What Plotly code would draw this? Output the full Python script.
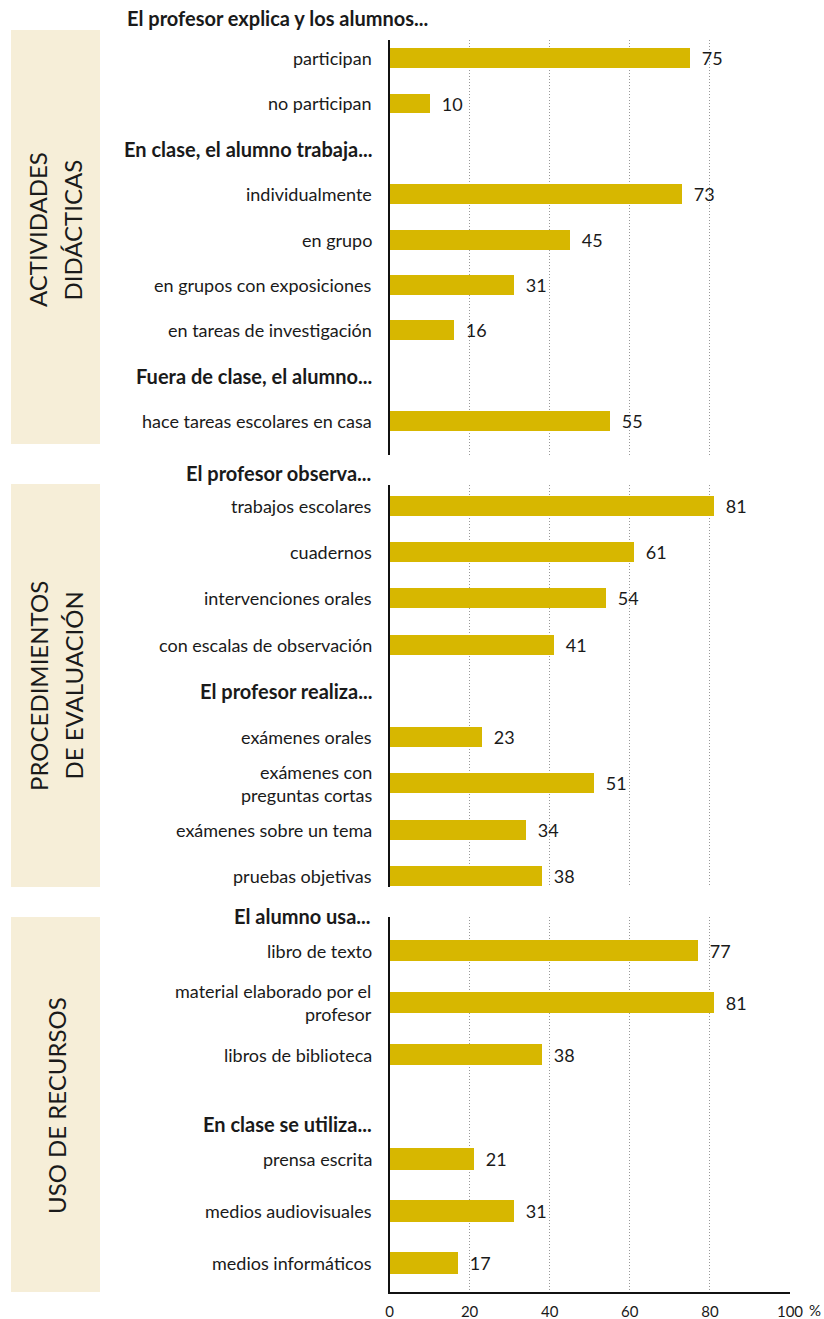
import plotly.graph_objects as go

W, H = 824, 1319

# ---------------- data ----------------
section_titles = [["ACTIVIDADES", "DIDÁCTICAS"], ["PROCEDIMIENTOS", "DE EVALUACIÓN"], ["USO DE RECURSOS"]]
panel_titles = ["El profesor explica y los alumnos...", "El profesor observa...", "El alumno usa..."]

cats1 = ["participan", "no participan", "<b>En clase, el alumno trabaja...</b>",
         "individualmente", "en grupo", "en grupos con exposiciones",
         "en tareas de investigación", "<b>Fuera de clase, el alumno...</b>",
         "hace tareas escolares en casa"]
vals1 = [75, 10, None, 73, 45, 31, 16, None, 55]
pos1 = [0, 1, 2, 3, 4, 5, 6, 7, 8]

cats2 = ["trabajos escolares", "cuadernos", "intervenciones orales",
         "con escalas de observación", "<b>El profesor realiza...</b>",
         "exámenes orales", "exámenes con<br>preguntas cortas",
         "exámenes sobre un tema", "pruebas objetivas"]
vals2 = [81, 61, 54, 41, None, 23, 51, 34, 38]
pos2 = [0, 1, 2, 3, 4, 5, 6, 7, 8]

cats3 = ["libro de texto", "material elaborado por el<br>profesor", "libros de biblioteca",
         "<b>En clase se utiliza...</b>", "prensa escrita", "medios audiovisuales",
         "medios informáticos"]
vals3 = [77, 81, 38, None, 21, 31, 17]
pos3 = [0, 1, 2, 3.33, 4, 5, 6]

x_ticks = [0, 20, 40, 60, 80, 100]
x_ticktext = ["0", "20", "40", "60", "80", "100"]

# ---------------- styling ----------------
FONT = "Lato, sans-serif"
BAR = "#D7B700"
BEIGE = "#F6EED8"
TXT = "#1a1a1a"


def px(x):
    return x / W


def py(y):
    return 1 - y / H


panels = [
    dict(cats=cats1, vals=vals1, pos=pos1, top=40, bottom=455, rng=[8.75, -0.4], bw=0.44,
         box=(30, 444), sec_x=[38, 72.5], sec_y=230, title_xy=(277, 18), title_anchor="center"),
    dict(cats=cats2, vals=vals2, pos=pos2, top=485, bottom=887, rng=[8.24, -0.45], bw=0.43,
         box=(484, 887), sec_x=[38, 72.5], sec_y=686, title_xy=(373, 473), title_anchor="right"),
    dict(cats=cats3, vals=vals3, pos=pos3, top=917, bottom=1292, rng=[6.56, -0.65], bw=0.41,
         box=(917, 1292), sec_x=[56], sec_y=1106, title_xy=(373, 916), title_anchor="right"),
]

fig = go.Figure()
shapes = []
annotations = []
X0, X1 = 389.5, 790

for i, p in enumerate(panels):
    n = i + 1
    xa = "x" if n == 1 else f"x{n}"
    ya = "y" if n == 1 else f"y{n}"
    fig.add_trace(go.Bar(
        orientation="h", x=p["vals"], y=p["pos"], xaxis=xa, yaxis=ya,
        marker=dict(color=BAR, line=dict(width=0)), width=p["bw"],
        text=[None if v is None else str(v) for v in p["vals"]],
        texttemplate="  %{text}", textposition="outside", cliponaxis=False,
        constraintext="none",
        textfont=dict(family=FONT, size=18, color=TXT),
        showlegend=False, hoverinfo="skip",
    ))
    last = (n == 3)
    fig.update_layout(**{
        ("xaxis" if n == 1 else f"xaxis{n}"): dict(
            domain=[px(X0), px(X1)], range=[0, 100], anchor=ya, automargin=False,
            tickvals=x_ticks, ticktext=x_ticktext, showticklabels=last,
            showgrid=True, gridcolor="#999999", griddash="1px,2px", gridwidth=1,
            zeroline=False, showline=last, linecolor="#111", linewidth=1.5,
            ticks="outside" if last else "", ticklen=5, tickcolor="rgba(0,0,0,0)",
            tickfont=dict(family=FONT, size=15, color=TXT), fixedrange=True,
        ),
        ("yaxis" if n == 1 else f"yaxis{n}"): dict(
            domain=[py(p["bottom"]), py(p["top"])], range=p["rng"], anchor=xa,
            automargin=False,
            showticklabels=False, showgrid=False, zeroline=False,
            showline=True, linecolor="#111", linewidth=1.5, ticks="", fixedrange=True,
        ),
    })
    # beige side box
    shapes.append(dict(type="rect", xref="paper", yref="paper",
                       x0=px(11), x1=px(100), y0=py(p["box"][1]), y1=py(p["box"][0]),
                       fillcolor=BEIGE, line=dict(width=0), layer="below"))
    # rotated section title (one annotation per line)
    for line, sx in zip(section_titles[i], p["sec_x"]):
        annotations.append(dict(xref="paper", yref="paper", x=px(sx), y=py(p["sec_y"]),
                                text=line, textangle=-90, showarrow=False,
                                xanchor="center", yanchor="middle", align="center",
                                font=dict(family=FONT, size=24, color=TXT)))
    # panel title
    tx, ty = p["title_xy"]
    annotations.append(dict(xref="paper", yref="paper", x=px(tx), y=py(ty),
                            text=f"<b>{panel_titles[i]}</b>", showarrow=False,
                            xanchor=p["title_anchor"], yanchor="middle",
                            font=dict(family=FONT, size=20, color=TXT)))
    # category labels
    for c, yv in zip(p["cats"], p["pos"]):
        bold = c.startswith("<b>")
        annotations.append(dict(xref="paper", yref=ya, x=px(374), y=yv, text=c,
                                showarrow=False, xanchor="right", yanchor="middle",
                                align="right",
                                font=dict(family=FONT, size=20 if bold else 18, color=TXT)))

annotations.append(dict(xref="paper", yref="paper", x=px(815), y=py(1310), text="%",
                        showarrow=False, xanchor="center", yanchor="middle",
                        font=dict(family=FONT, size=15, color=TXT)))

fig.update_layout(
    width=W, height=H, margin=dict(l=0, r=0, t=0, b=0, autoexpand=False),
    paper_bgcolor="white", plot_bgcolor="white",
    shapes=shapes, annotations=annotations, bargap=0,
    font=dict(family=FONT, color=TXT),
)

fig.write_html("out.html", config={"displayModeBar": False},
               post_script="document.body.style.margin='0';document.body.style.overflow='hidden';")
